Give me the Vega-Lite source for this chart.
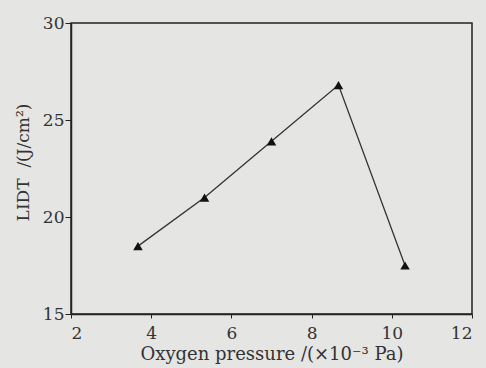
{
  "$schema": "https://vega.github.io/schema/vega-lite/v6.json",
  "width": 401,
  "height": 291,
  "autosize": {"type": "none"},
  "padding": {"left": 71, "top": 23, "right": 14, "bottom": 54},
  "background": "#e5e5e3",
  "config": {
    "view": {"stroke": "#222", "strokeWidth": 1.5},
    "font": "DejaVu Serif",
    "axis": {
      "domainColor": "#222",
      "domainWidth": 1.5,
      "tickColor": "#222",
      "labelColor": "#333",
      "titleColor": "#333",
      "labelFont": "DejaVu Serif",
      "titleFont": "DejaVu Serif",
      "labelFontSize": 17,
      "titleFontSize": 18,
      "titleFontWeight": "normal",
      "grid": false
    }
  },
  "data": {
    "values": [
      {"x": 3.67, "y": 18.5},
      {"x": 5.33, "y": 21.0},
      {"x": 7.0, "y": 23.9},
      {"x": 8.67, "y": 26.8},
      {"x": 10.33, "y": 17.5}
    ]
  },
  "layer": [
    {
      "mark": {"type": "line", "color": "#333", "strokeWidth": 1.3},
      "encoding": {
        "x": {"field": "x", "type": "quantitative"},
        "y": {"field": "y", "type": "quantitative"}
      }
    },
    {
      "mark": {"type": "point", "shape": "triangle-up", "filled": true, "color": "#111", "size": 90, "opacity": 1},
      "encoding": {
        "x": {
          "field": "x",
          "type": "quantitative",
          "scale": {"domain": [2, 12], "nice": false},
          "axis": {
            "title": "Oxygen pressure /(×10⁻³ Pa)",
            "values": [2, 4, 6, 8, 10, 12],
            "tickSize": 4,
            "labelPadding": 7,
            "titlePadding": 4
          }
        },
        "y": {
          "field": "y",
          "type": "quantitative",
          "scale": {"domain": [15, 30], "nice": false, "zero": false},
          "axis": {
            "title": "LIDT\u00a0\u00a0/(J/cm²)",
            "values": [15, 20, 25, 30],
            "tickSize": 6,
            "labelPadding": 1,
            "titleFontSize": 17,
            "titlePadding": 10,
            "titleY": 139
          }
        }
      }
    }
  ]
}
